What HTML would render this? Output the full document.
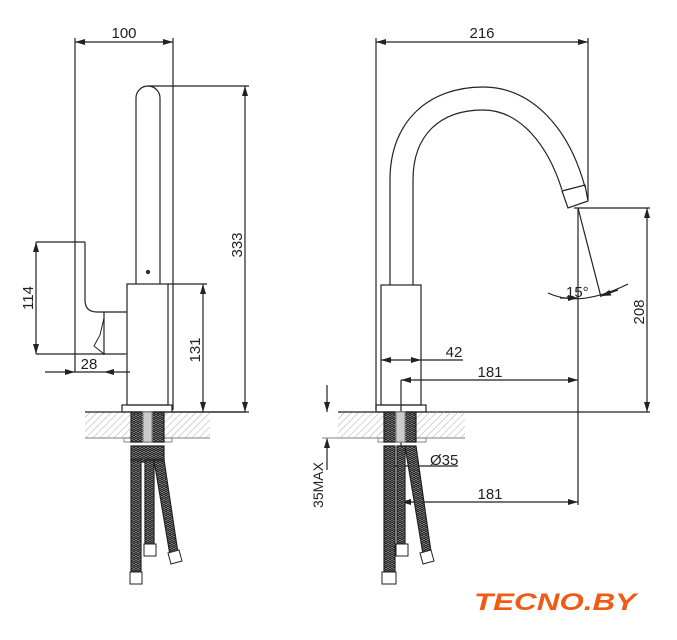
<!DOCTYPE html>
<html><head><meta charset="utf-8"><style>
html,body{margin:0;padding:0;background:#fff;width:677px;height:640px;overflow:hidden}
svg{display:block}
text{font-family:"Liberation Sans",sans-serif;fill:#222}
</style></head><body>
<svg width="677" height="640" viewBox="0 0 677 640" xmlns="http://www.w3.org/2000/svg">
<defs>
<marker id="a" viewBox="0 0 10 6" refX="10" refY="3" markerWidth="10" markerHeight="6" orient="auto-start-reverse" markerUnits="userSpaceOnUse"><path d="M0,0 L10,3 L0,6 z" fill="#222"/></marker>
<pattern id="h" width="5" height="5" patternUnits="userSpaceOnUse" patternTransform="rotate(45)"><line x1="0" y1="0" x2="0" y2="5" stroke="#aaa" stroke-width="1"/></pattern>
<pattern id="b" width="4" height="4" patternUnits="userSpaceOnUse"><rect width="4" height="4" fill="#999"/><path d="M0,0 L2,2 L4,0 M0,2 L2,4 L4,2" stroke="#222" stroke-width="1" fill="none"/></pattern>
</defs>
<g stroke="#222" stroke-width="1.2" fill="none">
<!-- LEFT VIEW -->
<line x1="75" y1="42" x2="173" y2="42" marker-start="url(#a)" marker-end="url(#a)"/>
<line x1="75" y1="38" x2="75" y2="372"/>
<line x1="173" y1="38" x2="173" y2="410"/>
<path d="M136,284 L136,98 A12,12 0 0 1 160,98 L160,284"/>
<circle cx="148" cy="272" r="1.5" fill="#444"/>
<rect x="127" y="284" width="41" height="121"/>
<rect x="122" y="405" width="50" height="7"/>
<line x1="148" y1="86" x2="249" y2="86"/>
<line x1="245" y1="86" x2="245" y2="412" marker-start="url(#a)" marker-end="url(#a)"/>
<line x1="172" y1="412" x2="249" y2="412"/>
<line x1="168" y1="284" x2="207" y2="284"/>
<line x1="203" y1="284" x2="203" y2="412" marker-start="url(#a)" marker-end="url(#a)"/>
<path d="M85,242 L85,300 Q85,312 97,312 L127,312"/>
<path d="M127,354 L104,354 L94,346 L100,335 L104,318" stroke-width="1"/>
<line x1="104" y1="312" x2="104" y2="355"/>
<line x1="36" y1="242" x2="85" y2="242"/>
<line x1="36" y1="354" x2="125" y2="354"/>
<line x1="36" y1="242" x2="36" y2="354" marker-start="url(#a)" marker-end="url(#a)"/>
<line x1="45" y1="372" x2="75" y2="372" marker-end="url(#a)"/>
<line x1="130" y1="372" x2="104" y2="372" marker-end="url(#a)"/>
<line x1="75" y1="372" x2="104" y2="372"/>
<rect x="85" y="412" width="125" height="26" fill="url(#h)" stroke="none"/>
<line x1="85" y1="412" x2="245" y2="412"/>
<line x1="85" y1="438" x2="210" y2="438" stroke="#999"/>
<rect x="124" y="438" width="48" height="4" stroke="#999"/>
<rect x="131" y="412" width="33" height="30" fill="url(#b)"/>
<rect x="143" y="412" width="9" height="30" fill="#ccc" stroke="#888"/>
<rect x="131" y="446" width="33" height="16" fill="url(#b)"/>
<path d="M131,460 L131,572 L141,572 L141,460 Z" fill="url(#b)"/>
<path d="M145,460 L145,545 L154,545 L154,460 Z" fill="url(#b)"/>
<path d="M154,460 L164,460 L178,553 L170,555 Z" fill="url(#b)"/>
<path d="M130,572 h12 v12 h-12 z M144,544 h12 v12 h-12 z M168,553 l11,-3 l3,11 l-11,3 z" fill="#fff" stroke-width="1"/>
<!-- RIGHT VIEW -->
<line x1="376" y1="42" x2="588" y2="42" marker-start="url(#a)" marker-end="url(#a)"/>
<line x1="376" y1="38" x2="376" y2="410"/>
<line x1="588" y1="38" x2="588" y2="200"/>
<path d="M390,285 L390,180 C390,120 430,87 483,87 C530,87 568,125 585,187"/>
<path d="M413,285 L413,180 C413,135 440,110 483,110 C520,110 548,145 562,190"/>
<path d="M562,191 L585,185 L588,201 L568,208 Z"/>
<rect x="381" y="285" width="40" height="120"/>
<rect x="376" y="405" width="50" height="7"/>
<line x1="574" y1="208" x2="650" y2="208"/>
<line x1="647" y1="208" x2="647" y2="412" marker-start="url(#a)" marker-end="url(#a)"/>
<line x1="426" y1="412" x2="650" y2="412"/>
<line x1="578" y1="208" x2="578" y2="505"/>
<line x1="578" y1="208" x2="601" y2="297"/>
<path d="M548,293 Q580,308 628,284"/>
<line x1="560" y1="298" x2="578" y2="298" marker-end="url(#a)"/>
<line x1="618" y1="290" x2="601" y2="296" marker-end="url(#a)"/>
<line x1="381" y1="360" x2="421" y2="360" marker-start="url(#a)" marker-end="url(#a)"/>
<line x1="421" y1="360" x2="463" y2="360"/>
<line x1="401" y1="380" x2="578" y2="380" marker-start="url(#a)" marker-end="url(#a)"/>
<line x1="401" y1="380" x2="401" y2="505"/>
<line x1="388" y1="466" x2="458" y2="466"/>
<line x1="401" y1="502" x2="578" y2="502" marker-start="url(#a)" marker-end="url(#a)"/>
<line x1="327" y1="385" x2="327" y2="412" marker-end="url(#a)"/>
<line x1="327" y1="470" x2="327" y2="438" marker-end="url(#a)"/>
<rect x="338" y="412" width="127" height="26" fill="url(#h)" stroke="none"/>
<line x1="338" y1="412" x2="426" y2="412"/>
<line x1="322" y1="438" x2="465" y2="438" stroke="#999"/>
<rect x="378" y="438" width="48" height="4" stroke="#999"/>
<rect x="384" y="412" width="32" height="30" fill="url(#b)"/>
<rect x="396" y="412" width="9" height="30" fill="#ccc" stroke="#888"/>
<path d="M384,446 L384,572 L395,572 L395,446 Z" fill="url(#b)"/>
<path d="M397,446 L397,545 L405,545 L405,446 Z" fill="url(#b)"/>
<path d="M405,446 L416,446 L431,552 L423,554 Z" fill="url(#b)"/>
<path d="M382,572 h14 v12 h-14 z M396,544 h12 v12 h-12 z M420,553 l11,-3 l3,11 l-11,3 z" fill="#fff" stroke-width="1"/>
</g>
<g font-size="15">
<text x="124" y="38" text-anchor="middle">100</text>
<text x="482" y="38" text-anchor="middle">216</text>
<text transform="translate(242,245) rotate(-90)" text-anchor="middle">333</text>
<text transform="translate(200,350) rotate(-90)" text-anchor="middle">131</text>
<text transform="translate(33,298) rotate(-90)" text-anchor="middle">114</text>
<text transform="translate(644,312) rotate(-90)" text-anchor="middle">208</text>
<text transform="translate(323,485) rotate(-90)" text-anchor="middle" font-size="14">35MAX</text>
<text x="89" y="369" text-anchor="middle">28</text>
<text x="454" y="357" text-anchor="middle">42</text>
<text x="490" y="377" text-anchor="middle">181</text>
<text x="490" y="499" text-anchor="middle">181</text>
<text x="430" y="465">Ø35</text>
<text x="566" y="297">15°</text>
</g>
<text x="474" y="610" font-size="24" font-weight="bold" font-style="italic" textLength="162" lengthAdjust="spacingAndGlyphs" style="fill:#f05a14;font-family:'Liberation Sans',sans-serif">TECNO.BY</text>
</svg>
</body></html>
